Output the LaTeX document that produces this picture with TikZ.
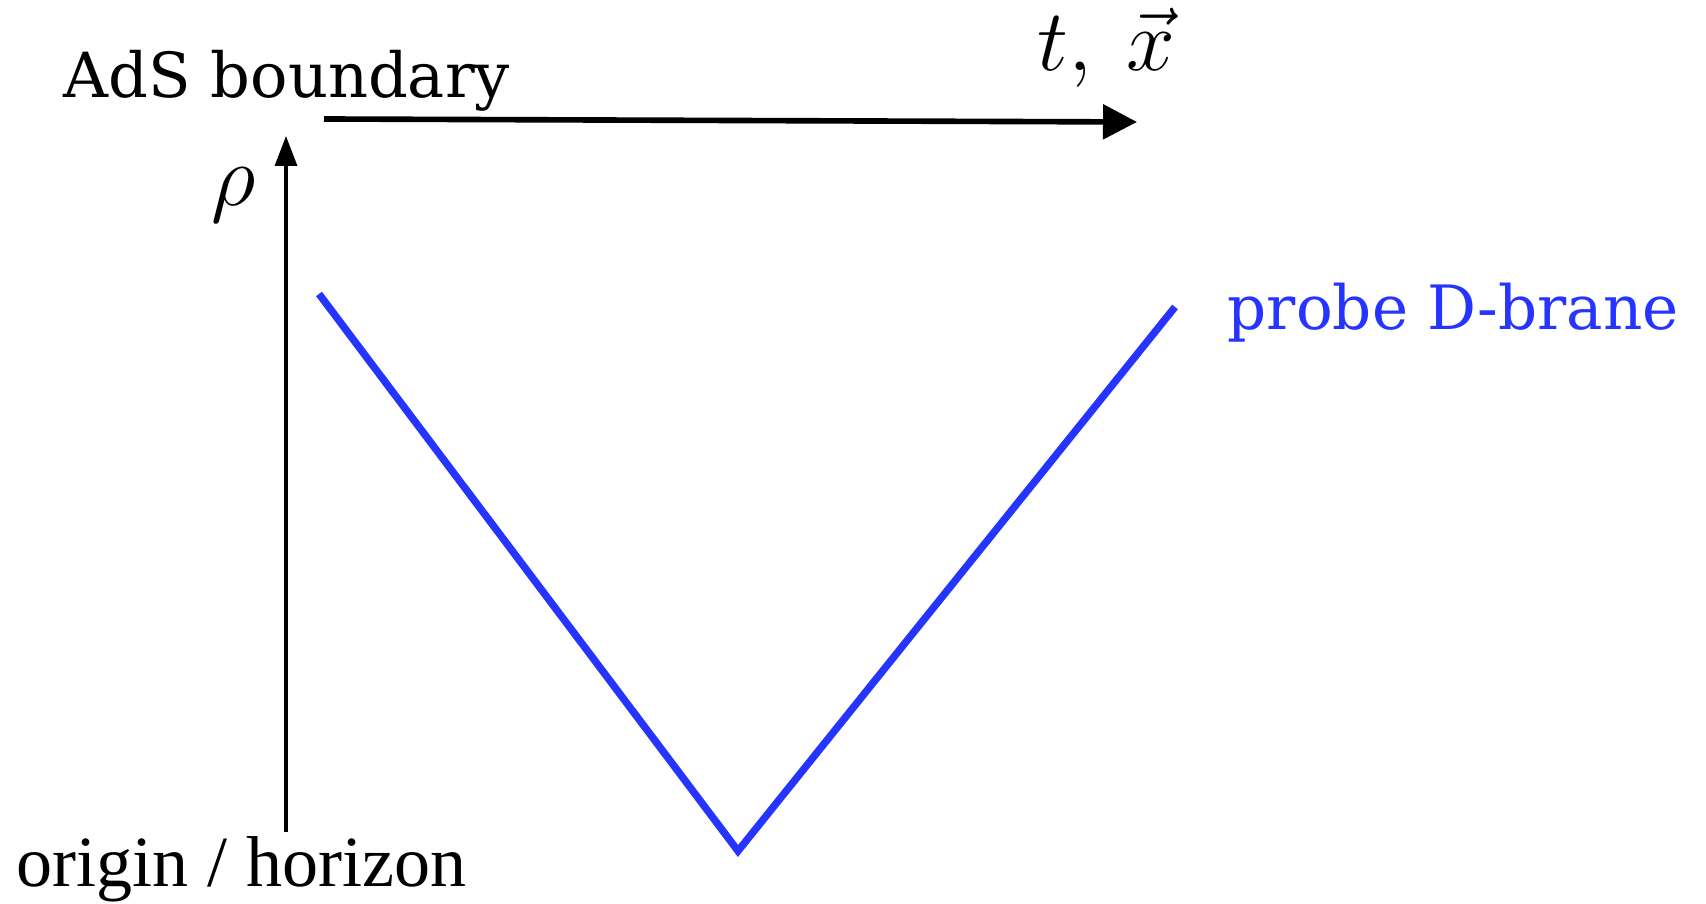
\documentclass[tikz,border=0pt]{standalone}
\usepackage{amssymb}
\usepackage{amsmath}
\usepackage{fontspec}
\newfontfamily\schoolFont{DejaVu Serif}
\newfontfamily\timesFont{Liberation Serif}
\usepackage{tikz}
\usetikzlibrary{arrows.meta}
\definecolor{probeBlue}{RGB}{38,52,255}
\tikzset{
  bdyArrow/.style={line width=1.6pt,-{Triangle[length=3.4mm,width=3.4mm]}},
  rhoArrow/.style={line width=0.95pt,-{Triangle[length=3.0mm,width=2.2mm]}},
  brane/.style={line width=2.1pt,probeBlue},
}

\begin{document}
\begin{tikzpicture}
  \useasboundingbox (0,0) rectangle (17.06,9.04);
  % Labels
  \node[anchor=base west,inner sep=0pt] (bdyLabel) at (0.63,8.06)
    {\schoolFont\fontsize{17.7}{20}\selectfont AdS boundary};
  \node[anchor=base west,inner sep=0pt] (txLabel) at (10.37,8.33)
    {\fontsize{23}{26}\selectfont $t,\:\vec{x}$};
  \node[inner sep=0pt] (rhoLabel) at (2.34,7.09)
    {\fontsize{30}{33}\selectfont $\rho$};
  \node[anchor=base west,inner sep=0pt] (horLabel) at (0.16,0.17)
    {\timesFont\fontsize{20.5}{23}\selectfont origin\hspace{0.26em}/\hspace{0.26em}horizon};
  \node[anchor=base west,inner sep=0pt,text=probeBlue] (braneLabel) at (12.27,5.74)
    {\schoolFont\fontsize{17.4}{19}\selectfont probe D-brane};
  % Axes
  \coordinate (bdyStart) at (3.24,7.85);
  \coordinate (bdyEnd) at (11.37,7.82);
  \coordinate (rhoStart) at (2.86,0.72);
  \coordinate (rhoEnd) at (2.86,7.68);
  \draw[bdyArrow] (bdyStart) -- (bdyEnd);
  \draw[rhoArrow] (rhoStart) -- (rhoEnd);
  % Probe brane profile
  \coordinate (braneLeft) at (3.19,6.10);
  \coordinate (braneTip) at (7.38,0.53);
  \coordinate (braneRight) at (11.75,5.97);
  \draw[brane] (braneLeft) -- (braneTip) -- (braneRight);
\end{tikzpicture}
\end{document}
